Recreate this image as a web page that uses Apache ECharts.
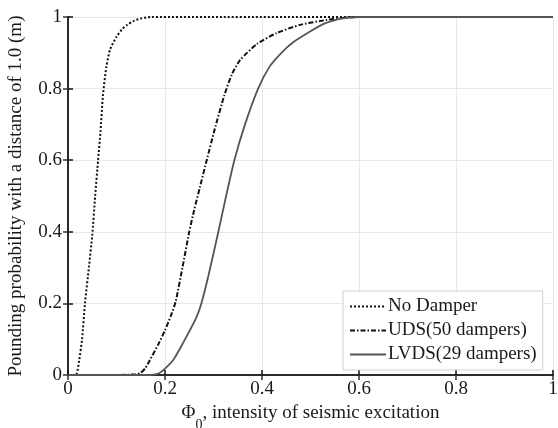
<!DOCTYPE html>
<html>
<head>
<meta charset="utf-8">
<script src="https://cdn.jsdelivr.net/npm/echarts@6/dist/echarts.min.js"></script>
<style>
  html, body { margin: 0; padding: 0; background: #fff; }
  #main { width: 558px; height: 428px; }
</style>
</head>
<body>
<div id="main"></div>
<script>
// values
var noDamperX = [0, 0.012, 0.018, 0.023, 0.029, 0.035, 0.043, 0.05, 0.056, 0.062, 0.067, 0.072, 0.079, 0.087, 0.1, 0.111, 0.122, 0.134, 0.15, 0.17, 1];
var noDamperY = [0, 0, 0.004, 0.04, 0.1, 0.2, 0.3, 0.39, 0.5, 0.6, 0.68, 0.78, 0.86, 0.91, 0.945, 0.965, 0.978, 0.988, 0.996, 1, 1];

var udsX = [0, 0.1, 0.14, 0.15, 0.16, 0.169, 0.186, 0.2, 0.212, 0.222, 0.236, 0.25, 0.26, 0.272, 0.286, 0.302, 0.322, 0.338, 0.355, 0.39, 0.43, 0.478, 0.534, 0.57, 0.6, 1];
var udsY = [0, 0, 0.002, 0.006, 0.02, 0.042, 0.085, 0.125, 0.165, 0.205, 0.3, 0.4, 0.46, 0.525, 0.6, 0.684, 0.78, 0.84, 0.88, 0.925, 0.955, 0.978, 0.992, 0.998, 1, 1];

var lvdsX = [0, 0.17, 0.185, 0.196, 0.217, 0.237, 0.264, 0.275, 0.29, 0.31, 0.326, 0.343, 0.365, 0.392, 0.415, 0.44, 0.465, 0.5, 0.526, 0.554, 0.58, 0.6, 1];
var lvdsY = [0, 0, 0.003, 0.013, 0.042, 0.089, 0.159, 0.2, 0.28, 0.4, 0.5, 0.6, 0.7, 0.8, 0.86, 0.9, 0.93, 0.96, 0.98, 0.993, 0.998, 1, 1];

var seriesNames = ["No Damper", "UDS(50 dampers)", "LVDS(29 dampers)"];

function pairs(xs, ys) {
  var out = [];
  for (var i = 0; i < xs.length; i++) {
    out.push([xs[i], ys[i]]);
  }
  return out;
}

var serif = "Liberation Serif";
var textColor = "#1a1a1a";
var fontSize = 19;

var myChart = echarts.init(document.getElementById("main"));

var option = {
  animation: false,
  backgroundColor: "#fff",
  grid: { left: 68, right: 5, top: 17, bottom: 53, outerBoundsMode: "none" },
  legend: {
    orient: "vertical",
    left: 343,
    top: 291,
    padding: [6, 6, 6, 6],
    itemGap: 5,
    itemWidth: 36,
    itemHeight: 14,
    backgroundColor: "#fff",
    borderColor: "#d0d0d0",
    borderWidth: 1,
    itemStyle: { color: "rgba(0,0,0,0)", borderWidth: 0 },
    textStyle: { fontFamily: serif, fontSize: fontSize, color: textColor, padding: [0, 0, 0, -3] },
    data: seriesNames
  },
  xAxis: [
    {
      type: "value",
      min: 0,
      max: 1,
      interval: 0.2,
      name: "{a|Φ}{s|0}{a|, intensity of seismic excitation}",
      nameLocation: "middle",
      nameGap: 24,
      nameTextStyle: {
        rich: {
          a: { fontFamily: serif, fontSize: fontSize, color: textColor, lineHeight: 22, verticalAlign: "top" },
          s: { fontFamily: serif, fontSize: 14, color: textColor, lineHeight: 22, verticalAlign: "top", padding: [14, 0, 0, 0] }
        }
      },
      axisLine: { lineStyle: { color: "#111", width: 2 } },
      axisTick: { inside: true, length: 5, lineStyle: { color: "#111", width: 1.5 } },
      axisLabel: { fontFamily: serif, fontSize: fontSize, color: textColor, margin: 5 },
      splitLine: { show: true, lineStyle: { color: "#e8e8e8", width: 1 } }
    },
    {
      type: "value",
      position: "top",
      min: 0,
      max: 1,
      interval: 0.2,
      axisLine: { show: true, lineStyle: { color: "#333", width: 1.5 } },
      axisTick: { inside: true, length: 5, lineStyle: { color: "#333", width: 1.5 } },
      axisLabel: { show: false },
      splitLine: { show: false }
    }
  ],
  yAxis: [
    {
      type: "value",
      min: 0,
      max: 1,
      interval: 0.2,
      name: "Pounding probability with a distance of 1.0 (m)",
      nameLocation: "middle",
      nameGap: 42,
      nameTextStyle: { fontFamily: serif, fontSize: fontSize, color: textColor },
      axisLine: { show: true, lineStyle: { color: "#111", width: 2 } },
      axisTick: { show: true, inside: true, length: 5, lineStyle: { color: "#111", width: 1.5 } },
      axisLabel: { fontFamily: serif, fontSize: fontSize, color: textColor, margin: 6 },
      splitLine: { show: true, lineStyle: { color: "#e8e8e8", width: 1 } }
    },
    {
      type: "value",
      position: "right",
      min: 0,
      max: 1,
      interval: 0.2,
      axisLine: { show: true, lineStyle: { color: "#333", width: 1.5 } },
      axisTick: { show: true, inside: true, length: 5, lineStyle: { color: "#333", width: 1.5 } },
      axisLabel: { show: false },
      splitLine: { show: false }
    }
  ],
  series: [
    {
      name: seriesNames[0],
      type: "line",
      symbol: "none",
      smooth: 0.2,
      lineStyle: { color: "#111", width: 2, type: [2, 2] },
      itemStyle: { color: "#111" },
      data: pairs(noDamperX, noDamperY)
    },
    {
      name: seriesNames[1],
      type: "line",
      symbol: "none",
      smooth: 0.2,
      lineStyle: { color: "#111", width: 2, type: [5, 2, 1.5, 2] },
      itemStyle: { color: "#111" },
      data: pairs(udsX, udsY)
    },
    {
      name: seriesNames[2],
      type: "line",
      symbol: "none",
      smooth: 0.2,
      lineStyle: { color: "#555", width: 1.8, type: "solid" },
      itemStyle: { color: "#555" },
      data: pairs(lvdsX, lvdsY)
    }
  ]
};

myChart.setOption(option);
window.addEventListener("resize", function () {
  myChart.resize();
});
</script>
</body>
</html>
